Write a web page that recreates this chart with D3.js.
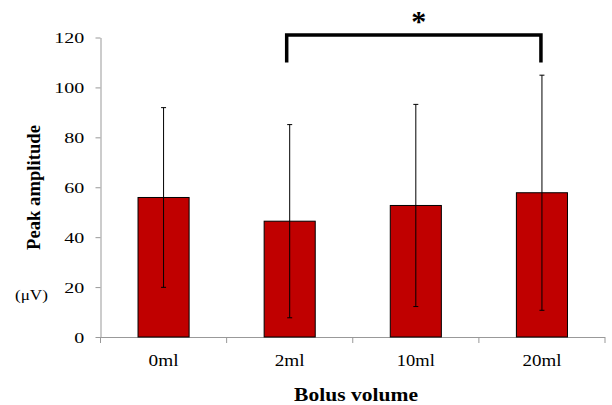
<!DOCTYPE html>
<html>
<head>
<meta charset="utf-8">
<script src="https://cdn.jsdelivr.net/npm/d3@7"></script>
<style>
  html, body { margin: 0; padding: 0; background: #fff; }
  svg { display: block; }
  text { font-family: "Liberation Serif", "Times New Roman", serif; fill: #000; }
</style>
</head>
<body>
<svg id="chart" width="612" height="405"></svg>
<script>
// ---- data ----
const categories = ["0ml", "2ml", "10ml", "20ml"];
const meanValues = [55.9, 46.4, 52.7, 57.8];
const sdValues = [36.0, 38.7, 40.5, 47.1];
const yTicks = [0, 20, 40, 60, 80, 100, 120];
const yAxisTitle = "Peak  amplitude";
const yAxisUnit = "(\u03bcV)";
const xAxisTitle = "Bolus  volume";
const sigPair = ["2ml", "20ml"];
const sigLabel = "*";
const bracketLevels = [110, 121]; // leg bottom, bar top (data units)

// ---- layout ----
const svg = d3.select("#chart");
const plotLeft = 100.5, plotRight = 605, plotTop = 37.5, plotBottom = 337;

const x = d3.scaleBand()
  .domain(categories)
  .range([plotLeft, plotRight])
  .paddingInner(0.595)
  .paddingOuter(0.2975);

const y = d3.scaleLinear().domain([0, 120]).range([plotBottom, plotTop]);

const axisColor = "#999";

// place text at (px,py) and stretch horizontally (along its own direction) to a target width
function placeText(sel, px, py, width, rotate) {
  sel.each(function(d) {
    const t = d3.select(this);
    t.attr("x", 0).attr("y", 0);
    const w0 = this.getComputedTextLength();
    const tw = typeof width === "function" ? width(d) : width;
    const sx = tw / w0;
    const X = typeof px === "function" ? px(d) : px;
    const Y = typeof py === "function" ? py(d) : py;
    t.attr("transform", `translate(${X},${Y})${rotate ? " rotate(" + rotate + ")" : ""} scale(${sx},1)`);
  });
}

// y axis
const yAxis = svg.append("g")
  .attr("transform", `translate(${plotLeft},0)`)
  .call(d3.axisLeft(y).tickValues(yTicks).tickSize(5).tickPadding(11).tickSizeOuter(0));
yAxis.select(".domain").attr("stroke", axisColor);
yAxis.selectAll(".tick line").attr("stroke", axisColor);
yAxis.selectAll(".tick text")
  .attr("font-family", "Liberation Serif")
  .attr("font-size", 15)
  .attr("dy", null)
  .call(placeText, -16.2, 5.2, d => String(d).length * 10);

// x axis line and boundary ticks
const step = x.step();
const half = step / 2;
svg.append("line")
  .attr("x1", plotLeft).attr("x2", plotRight)
  .attr("y1", y(0) + 0.5).attr("y2", y(0) + 0.5)
  .attr("stroke", axisColor);
const boundaries = categories.map(c => x(c) + x.bandwidth() / 2 - half)
  .concat([x(categories[categories.length - 1]) + x.bandwidth() / 2 + half]);
svg.selectAll(".xtick").data(boundaries).enter().append("line")
  .attr("class", "xtick")
  .attr("x1", d => d).attr("x2", d => d)
  .attr("y1", y(0)).attr("y2", y(0) + 6)
  .attr("stroke", axisColor);

// x tick labels
const xLabelWidths = { "0ml": 30, "2ml": 30, "10ml": 38, "20ml": 39 };
svg.selectAll(".xlabel").data(categories).enter().append("text")
  .attr("class", "xlabel")
  .attr("text-anchor", "middle")
  .attr("font-size", 16)
  .text(d => d)
  .call(placeText, d => x(d) + x.bandwidth() / 2, 366, d => xLabelWidths[d]);

// bars
const barData = categories.map((c, i) => ({ c, v: meanValues[i], sd: sdValues[i] }));
svg.selectAll(".bar").data(barData).enter().append("rect")
  .attr("class", "bar")
  .attr("x", d => x(d.c))
  .attr("y", d => y(d.v))
  .attr("width", x.bandwidth())
  .attr("height", d => y(0) - y(d.v))
  .attr("fill", "#C00000")
  .attr("stroke", "#000")
  .attr("stroke-width", 1);

// error bars
const cx = d => x(d.c) + x.bandwidth() / 2;
const eb = svg.selectAll(".err").data(barData).enter().append("g").attr("class", "err");
eb.append("line")
  .attr("x1", cx).attr("x2", cx)
  .attr("y1", d => y(d.v + d.sd)).attr("y2", d => y(d.v - d.sd))
  .attr("stroke", "#000").attr("stroke-width", 1);
eb.append("line")
  .attr("x1", d => cx(d) - 2.5).attr("x2", d => cx(d) + 2.5)
  .attr("y1", d => y(d.v + d.sd)).attr("y2", d => y(d.v + d.sd))
  .attr("stroke", "#000").attr("stroke-width", 1);
eb.append("line")
  .attr("x1", d => cx(d) - 2.5).attr("x2", d => cx(d) + 2.5)
  .attr("y1", d => y(d.v - d.sd)).attr("y2", d => y(d.v - d.sd))
  .attr("stroke", "#000").attr("stroke-width", 1);

// significance bracket
const bx1 = x(sigPair[0]) + x.bandwidth() / 2 - 3;
const bx2 = x(sigPair[1]) + x.bandwidth() / 2 - 1;
svg.append("path")
  .attr("d", d3.line()([[bx1, y(bracketLevels[0])], [bx1, y(bracketLevels[1])], [bx2, y(bracketLevels[1])], [bx2, y(bracketLevels[0])]]))
  .attr("fill", "none")
  .attr("stroke", "#000")
  .attr("stroke-width", 3.5)
  .attr("stroke-linejoin", "miter")
  .attr("stroke-linecap", "butt");
svg.append("text")
  .attr("x", (bx1 + bx2) / 2 + 5)
  .attr("y", 31)
  .attr("text-anchor", "middle")
  .attr("font-size", 30)
  .attr("font-weight", "bold")
  .attr("font-family", "Liberation Sans, Arial, sans-serif")
  .text(sigLabel);

// axis titles
svg.append("text")
  .attr("text-anchor", "middle")
  .attr("font-size", 19.5)
  .attr("font-weight", "bold")
  .text(yAxisTitle)
  .call(placeText, 40, 187.5, 125, -90);
svg.append("text")
  .attr("font-size", 14)
  .text(yAxisUnit)
  .call(placeText, 15, 299.5, 33);
svg.append("text")
  .attr("text-anchor", "middle")
  .attr("font-size", 18.5)
  .attr("font-weight", "bold")
  .text(xAxisTitle)
  .call(placeText, 356, 401, 124);
</script>
</body>
</html>
